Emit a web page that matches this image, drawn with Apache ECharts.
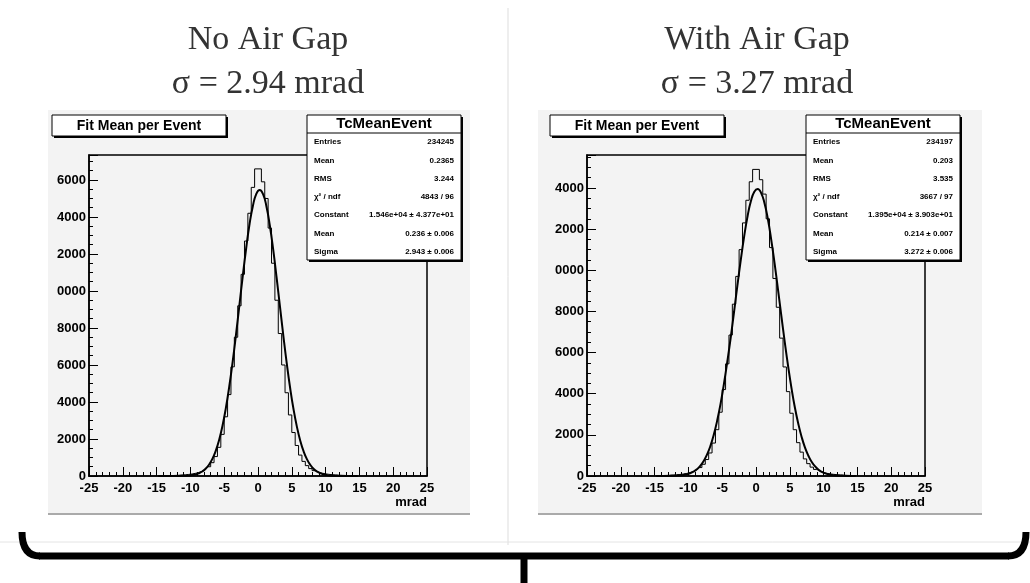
<!DOCTYPE html>
<html lang="en">
<head>
<meta charset="utf-8">
<style>
    html, body { margin: 0; width: 100%; height: 100%; background: #fff; overflow: hidden; }
    #main { width: 1030px; height: 583px; }
</style>
</head>
<body>
<div id="main"></div>
<script src="https://cdn.jsdelivr.net/npm/echarts@6/dist/echarts.min.js"></script>
<script>
    // bin centres (mrad), 0.5 mrad bins
    var binCentres = [-14.75, -14.25, -13.75, -13.25, -12.75, -12.25,
        -11.75, -11.25, -10.75, -10.25, -9.75, -9.25, -8.75, -8.25, -7.75, -7.25, -6.75, -6.25,
        -5.75, -5.25, -4.75, -4.25, -3.75, -3.25, -2.75, -2.25, -1.75, -1.25, -0.75, -0.25,
        0.25, 0.75, 1.25, 1.75, 2.25, 2.75, 3.25, 3.75, 4.25, 4.75, 5.25, 5.75,
        6.25, 6.75, 7.25, 7.75, 8.25, 8.75, 9.25, 9.75, 10.25, 10.75, 11.25, 11.75,
        12.25, 12.75, 13.25, 13.75, 14.25, 14.75];

    // no air gap
    var histNoGap = [10, 12, 15, 19, 24, 31,
        40, 50, 65, 85, 110, 145, 190, 260, 360, 500, 720, 1050,
        1550, 2250, 3200, 4400, 5900, 7500, 9200, 10900, 12700, 14200, 15600, 16600,
        16600, 15900, 15000, 13400, 11500, 9500, 7700, 6000, 4500, 3300, 2350, 1650,
        1130, 790, 560, 400, 290, 210, 155, 115, 90, 70, 55, 45,
        36, 29, 23, 18, 14, 11];
    var fitNoGap = [0, 0, 0, 0, 1, 2,
        4, 8, 15, 27, 49, 85, 146, 241, 390, 611, 923, 1361,
        1948, 2720, 3680, 4840, 6170, 7660, 9240, 10820, 12310, 13620, 14610, 15250,
        15460, 15230, 14570, 13540, 12230, 10730, 9150, 7580, 6100, 4770, 3620, 2670,
        1910, 1330, 900, 594, 379, 235, 142, 83, 47, 26, 14, 7,
        3, 2, 1, 0, 0, 0];

    // with air gap
    var histGap = [14, 18, 23, 29, 37, 47,
        60, 75, 95, 125, 165, 220, 300, 410, 570, 800, 1120, 1600,
        2250, 3100, 4200, 5450, 6850, 8350, 9700, 11000, 12300, 13400, 14300, 14900,
        14900, 14400, 13700, 12500, 11100, 9600, 8200, 6700, 5300, 4100, 3050, 2250,
        1620, 1160, 830, 600, 430, 320, 235, 175, 130, 100, 80, 65,
        52, 42, 33, 26, 20, 15];
    var fitGap = [1, 1, 2, 3, 6, 10,
        17, 30, 51, 84, 135, 212, 325, 490, 723, 1036, 1455, 1999,
        2680, 3490, 4460, 5550, 6700, 7970, 9260, 10500, 11650, 12620, 13360, 13810,
        13950, 13760, 13270, 12500, 11490, 10330, 9070, 7780, 6520, 5340, 4270, 3330,
        2550, 1900, 1380, 985, 682, 464, 308, 199, 127, 79, 47, 28,
        16, 9, 5, 3, 1, 1];

    var statsNoGap = [['Entries', '234245'], ['Mean', '0.2365'], ['RMS', '3.244'],
        ['χ² / ndf', '4843 / 96'], ['Constant', '1.546e+04 ± 4.377e+01'],
        ['Mean', '0.236 ± 0.006'], ['Sigma', '2.943 ± 0.006']];
    var statsGap = [['Entries', '234197'], ['Mean', '0.203'], ['RMS', '3.535'],
        ['χ² / ndf', '3667 / 97'], ['Constant', '1.395e+04 ± 3.903e+01'],
        ['Mean', '0.214 ± 0.007'], ['Sigma', '3.272 ± 0.006']];

    function pairs(xs, ys) {
        return xs.map(function (x, i) { return [x, ys[i]]; });
    }

    var font = 'Liberation Sans';
    function xAx(idx) {
        return {
            gridIndex: idx, type: 'value', min: -25, max: 25, interval: 5,
            axisLine: { onZero: false, lineStyle: { color: '#000', width: 1.5 } },
            axisTick: { inside: true, length: 9, lineStyle: { color: '#000' } },
            minorTick: { show: true, splitNumber: 5, length: 4, lineStyle: { color: '#000' } },
            axisLabel: { color: '#000', fontFamily: font, fontWeight: 'bold', fontSize: 13, margin: 6 },
            splitLine: { show: false },
            name: 'mrad', nameLocation: 'end', nameGap: 0,
            nameTextStyle: { color: '#000', fontFamily: font, fontWeight: 'bold', fontSize: 13,
                verticalAlign: 'top', align: 'right', padding: [20, 0, 0, 0] }
        };
    }
    function yAx(idx, max) {
        return {
            gridIndex: idx, type: 'value', min: 0, max: max, interval: 2000,
            axisLine: { show: true, onZero: false, lineStyle: { color: '#000', width: 1.5 } },
            axisTick: { show: true, inside: true, length: 9, lineStyle: { color: '#000' } },
            minorTick: { show: true, splitNumber: 4, length: 4, lineStyle: { color: '#000' } },
            axisLabel: { color: '#000', fontFamily: font, fontWeight: 'bold', fontSize: 13, margin: 3,
                showMaxLabel: false,
                formatter: function (v) { return v >= 10000 ? String(v).slice(1) : String(v); } },
            splitLine: { show: false }
        };
    }
    function histSeries(idx, data) {
        return { type: 'line', xAxisIndex: idx, yAxisIndex: idx, step: 'middle', symbol: 'none',
            data: data, lineStyle: { color: '#000', width: 1 }, silent: true };
    }
    function fitSeries(idx, data) {
        return { type: 'line', xAxisIndex: idx, yAxisIndex: idx, smooth: true, symbol: 'none',
            data: data, lineStyle: { color: '#000', width: 2 }, silent: true, z: 3 };
    }

    function panel(x0, w, titleX, statsX, stats, heading, sigma, cx) {
        var els = [
            { type: 'rect', shape: { x: x0, y: 110, width: w, height: 405 },
                style: { fill: '#f3f3f3' }, z: -10 },
            { type: 'rect', shape: { x: x0, y: 513, width: w, height: 2 },
                style: { fill: '#aaa' }, z: -9 },
            { type: 'text', x: cx, y: 40, style: { text: heading, fill: '#333', font: '34px "Liberation Serif"',
                align: 'center', verticalAlign: 'middle' } },
            { type: 'text', x: cx, y: 84, style: { text: sigma, fill: '#333', font: '34px "Liberation Serif"',
                align: 'center', verticalAlign: 'middle' } },
            { type: 'rect', shape: { x: titleX + 2, y: 117, width: 174, height: 21 }, style: { fill: '#000' }, z: 10 },
            { type: 'rect', shape: { x: titleX, y: 115, width: 174, height: 21 },
                style: { fill: '#fff', stroke: '#000', lineWidth: 1 }, z: 11 },
            { type: 'text', x: titleX + 87, y: 126, z: 12, style: { text: 'Fit Mean per Event',
                font: 'bold 14px "Liberation Sans"', fill: '#000', align: 'center', verticalAlign: 'middle' } },
            { type: 'rect', shape: { x: statsX + 2, y: 117, width: 154, height: 145 }, style: { fill: '#000' }, z: 10 },
            { type: 'rect', shape: { x: statsX, y: 115, width: 154, height: 145 },
                style: { fill: '#fff', stroke: '#000', lineWidth: 1 }, z: 11 },
            { type: 'line', shape: { x1: statsX, y1: 133, x2: statsX + 154, y2: 133 },
                style: { stroke: '#000', lineWidth: 1 }, z: 12 },
            { type: 'text', x: statsX + 77, y: 124, z: 12, style: { text: 'TcMeanEvent',
                font: 'bold 15px "Liberation Sans"', fill: '#000', align: 'center', verticalAlign: 'middle' } }
        ];
        stats.forEach(function (r, i) {
            var y = 142 + i * 18.3;
            els.push({ type: 'text', x: statsX + 7, y: y, z: 12, style: { text: r[0],
                font: 'bold 8px "Liberation Sans"', fill: '#000', verticalAlign: 'middle' } });
            els.push({ type: 'text', x: statsX + 147, y: y, z: 12, style: { text: r[1],
                font: 'bold 8px "Liberation Sans"', fill: '#000', align: 'right', verticalAlign: 'middle' } });
        });
        return els;
    }

    var graphics = [].concat(
        panel(48, 422, 52, 307, statsNoGap, 'No Air Gap', 'σ = 2.94 mrad', 268),
        panel(538, 444, 550, 806, statsGap, 'With Air Gap', 'σ = 3.27 mrad', 757),
        [
            { type: 'line', shape: { x1: 508, y1: 8, x2: 508, y2: 545 }, style: { stroke: '#ddd', lineWidth: 1 } },
            { type: 'line', shape: { x1: 0, y1: 542, x2: 1030, y2: 542 }, style: { stroke: '#e4e4e4', lineWidth: 1 } },
            { type: 'bezierCurve', shape: { x1: 22, y1: 532, cpx1: 22, cpy1: 556, x2: 40, y2: 556 },
                style: { stroke: '#000', lineWidth: 7, fill: null } },
            { type: 'bezierCurve', shape: { x1: 1026, y1: 532, cpx1: 1026, cpy1: 556, x2: 1008, y2: 556 },
                style: { stroke: '#000', lineWidth: 7, fill: null } },
            { type: 'line', shape: { x1: 39, y1: 556, x2: 1009, y2: 556 }, style: { stroke: '#000', lineWidth: 7 } },
            { type: 'line', shape: { x1: 524, y1: 556, x2: 524, y2: 583 }, style: { stroke: '#000', lineWidth: 7 } }
        ]
    );

    var chart = echarts.init(document.getElementById('main'));
    chart.setOption({
        animation: false,
        grid: [
            { left: 89, top: 155, width: 338, height: 321, show: true, borderColor: '#000', borderWidth: 1.5,
                backgroundColor: 'transparent' },
            { left: 587, top: 155, width: 338, height: 321, show: true, borderColor: '#000', borderWidth: 1.5,
                backgroundColor: 'transparent' }
        ],
        xAxis: [xAx(0), xAx(1)],
        yAxis: [yAx(0, 17350), yAx(1, 15600)],
        series: [
            histSeries(0, pairs(binCentres, histNoGap)),
            fitSeries(0, pairs(binCentres, fitNoGap)),
            histSeries(1, pairs(binCentres, histGap)),
            fitSeries(1, pairs(binCentres, fitGap))
        ],
        graphic: graphics
    });
</script>
</body>
</html>
